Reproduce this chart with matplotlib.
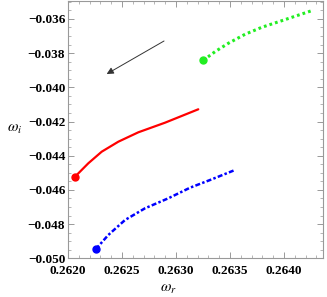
import matplotlib
matplotlib.use("Agg")
import matplotlib.pyplot as plt
from matplotlib.ticker import MultipleLocator, FuncFormatter

plt.rcParams['mathtext.fontset'] = 'stix'

red_x = [0.262065, 0.262188, 0.262312, 0.262466, 0.262651, 0.262898, 0.263206]
red_y = [-0.045228, -0.044444, -0.043766, -0.043181, -0.042632, -0.042070, -0.041286]

blue_x = [0.262256, 0.262373, 0.262528, 0.262713, 0.262929, 0.263130, 0.263315, 0.263546]
blue_y = [-0.049474, -0.048637, -0.047760, -0.047076, -0.046491, -0.045871, -0.045421, -0.044836]

green_x = [0.263253, 0.263361, 0.263484, 0.263639, 0.263794, 0.263979, 0.264256]
green_y = [-0.038421, -0.037918, -0.037427, -0.036900, -0.036491, -0.036105, -0.035520]

arrow_tail = (0.262889, -0.037292)
arrow_head = (0.262358, -0.039222)

xticks = [0.2620, 0.2625, 0.2630, 0.2635, 0.2640]
yticks = [-0.050, -0.048, -0.046, -0.044, -0.042, -0.040, -0.038, -0.036]

fig = plt.figure(figsize=(3.27, 2.97), dpi=100)
ax = fig.add_axes([68/327, 38.7/297, (322.7-68)/327, (258.3-1)/297])

ax.plot(red_x, red_y, color='#ff0000', lw=1.6, solid_capstyle='round', solid_joinstyle='round')
ax.plot(red_x[0], red_y[0], 'o', color='#ff0000', ms=5)

ax.plot(blue_x, blue_y, color='#0000ff', lw=1.8, dashes=(2.0, 0.9, 1.0, 0.9))
ax.plot(blue_x[0], blue_y[0], 'o', color='#0000ff', ms=5)

ax.plot(green_x, green_y, color='#22ee22', lw=2.2, dashes=(0.9, 1.0))
ax.plot(green_x[0], green_y[0], 'o', color='#22ee22', ms=5)

ax.annotate('', xy=arrow_head, xytext=arrow_tail,
            arrowprops=dict(arrowstyle='-|>', color='#333333', lw=0.7,
                            mutation_scale=10, shrinkA=0, shrinkB=0))

ax.set_xlim(0.2620, 0.264358)
ax.set_ylim(-0.050, -0.034953)
ax.set_xticks(xticks)
ax.set_yticks(yticks)
ax.xaxis.set_major_formatter(FuncFormatter(lambda v, p: f'{v:.4f}'))
ax.yaxis.set_major_formatter(FuncFormatter(lambda v, p: f'{v:.3f}'.replace('-', '\u2212')))
ax.xaxis.set_minor_locator(MultipleLocator(0.0001))
ax.yaxis.set_minor_locator(MultipleLocator(0.0005))

for lab in ax.get_xticklabels() + ax.get_yticklabels():
    lab.set_fontfamily('Liberation Serif')
    lab.set_fontweight('bold')
    lab.set_fontsize(9.5)

ax.tick_params(which='both', direction='in', top=True, right=True, color='#999999')
ax.tick_params(which='major', length=4, width=0.7)
ax.tick_params(axis='y', which='major', pad=2)
ax.tick_params(axis='x', which='major', pad=4.5)
ax.tick_params(which='minor', length=2, width=0.5)
for s in ax.spines.values():
    s.set_color('#999999')
    s.set_linewidth(0.8)

fig.text(15/327, 1 - 128/297, r'$\omega_i$', fontsize=11, ha='center', va='center')
fig.text(168/327, 1 - 289/297, r'$\omega_r$', fontsize=11, ha='center', va='center')

fig.savefig('out.png', dpi=100)
